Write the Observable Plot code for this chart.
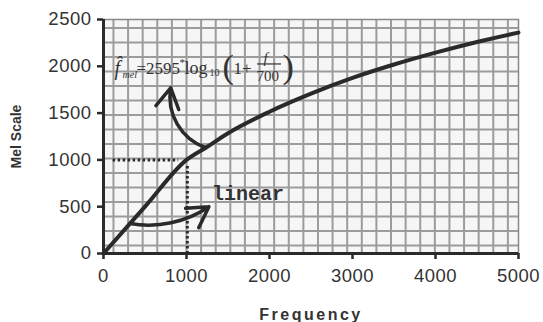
<!DOCTYPE html>
<html>
<head>
<meta charset="utf-8">
<script src="https://cdn.jsdelivr.net/npm/d3@7"></script>
<script src="https://cdn.jsdelivr.net/npm/@observablehq/plot@0.6"></script>
<style>
  html, body { margin: 0; padding: 0; background: #fff; }
  #chart svg { display: block; }
  #chart g[aria-label="x-axis label"] text { font-weight: bold; font-size: 16px; letter-spacing: 2.5px; fill: #333; }
  #chart g[aria-label="y-axis label"] text { font-weight: bold; font-size: 14px; fill: #333; }
  #chart g[aria-label="x-axis tick label"] text,
  #chart g[aria-label="y-axis tick label"] text { font-size: 18.5px; fill: #333; letter-spacing: 0.5px; }
</style>
</head>
<body>
<div id="chart"></div>
<script>
// Curve data: linear to 1000 Hz, logarithmic above
const freq = [0, 500, 1000, 1250, 1500, 2000, 2500, 3000, 3500, 4000, 4500, 5000];
const mel  = [0, 500, 1000, 1140, 1285, 1515, 1708, 1876, 2019, 2146, 2260, 2360];

// Tick values
const xTicks = [0, 1000, 2000, 3000, 4000, 5000];
const yTicks = [0, 500, 1000, 1500, 2000, 2500];

// Dotted reference lines (1000 Hz -> 1000 mel)
const refX1 = [110, 1010];
const refX2 = [900, 1010];
const refY1 = [1000, 0];
const refY2 = [1000, 940];

// Curved annotation arrows
const arrX1 = [1230, 320];
const arrY1 = [1130, 320];
const arrX2 = [810, 1270];
const arrY2 = [1770, 500];
const arrBend = [40, -22];

// "linear" label
const linearLabel = ["linear"];
const linearX = [1740];
const linearY = [640];

// Formula pieces, anchored at (0, 2000) with pixel offsets
const formulaText  = ["f\u0302", "mel", "=2595", "*", "log", "10", "(", "1+", "f", "700", ")"];
const formulaDx    = [11, 19, 33, 76, 81, 106, 119, 130, 160, 153, 179];
const formulaDy    = [2, 8, 2, -4, 2, 6, 1, 2, -8, 10, 1];
const formulaSize  = [20, 10, 17, 11, 18, 10, 34, 17, 15, 15, 34];
const formulaStyle = ["italic", "italic", "normal", "normal", "normal", "normal", "normal", "normal", "italic", "normal", "normal"];
const fracX1 = [1855], fracX2 = [2145], fracY = [2025];

const curve = freq.map((f, i) => ({f, m: mel[i]}));
const refs = refX1.map((_, i) => ({x1: refX1[i], x2: refX2[i], y1: refY1[i], y2: refY2[i]}));
const arrows = arrX1.map((_, i) => ({x1: arrX1[i], y1: arrY1[i], x2: arrX2[i], y2: arrY2[i], bend: arrBend[i]}));
const formula = formulaText.map((t, i) => ({t, x: 0, y: 2000, dx: formulaDx[i], dy: formulaDy[i], size: formulaSize[i], style: formulaStyle[i]}));

const gridXs = d3.range(120, 5000, 176);
const gridYs = d3.range(85, 2500, 155);

const ink = "#2a2a2a";

const formulaMarks = formula.map(d => Plot.text([d], {
  x: "x", y: "y", text: "t", dx: d.dx, dy: d.dy, textAnchor: "start",
  fontSize: d.size, fontStyle: d.style, fontFamily: "Liberation Serif, Times New Roman, serif",
  fill: "#333"
}));

const chart = Plot.plot({
  width: 543,
  height: 322,
  marginLeft: 103,
  marginRight: 25,
  marginTop: 19,
  marginBottom: 69,
  style: {fontFamily: "Liberation Sans, Arial, sans-serif", background: "#fff", color: "#333"},
  x: {domain: [0, 5000]},
  y: {domain: [0, 2500]},
  marks: [
    Plot.frame({fill: "#f6f6f6"}),
    Plot.ruleX(gridXs, {stroke: "#9c9c9c", strokeWidth: 2}),
    Plot.ruleY(gridYs, {stroke: "#9c9c9c", strokeWidth: 2}),
    Plot.frame({stroke: "#888", strokeWidth: 1.5}),
    Plot.link(refs, {x1: "x1", x2: "x2", y1: "y1", y2: "y2", stroke: ink, strokeWidth: 3, strokeDasharray: "2.5,2.5"}),
    Plot.line(curve, {x: "f", y: "m", stroke: ink, strokeWidth: 4, curve: "monotone-x"}),
    ...arrows.map(a => Plot.arrow([a], {x1: "x1", y1: "y1", x2: "x2", y2: "y2", bend: a.bend, stroke: ink, strokeWidth: 3.5, headLength: 10})),
    Plot.text(linearLabel, {x: linearX, y: linearY, text: d => d, fontFamily: "Liberation Mono, Courier New, monospace", fontSize: 20, fontWeight: "bold", fill: "#333"}),
    ...formulaMarks,
    Plot.ruleY([0], {x1: fracX1[0], x2: fracX2[0], y: fracY[0], stroke: "#333", strokeWidth: 1.2}),
    Plot.ruleX([0], {stroke: ink, strokeWidth: 3}),
    Plot.ruleY([0], {stroke: ink, strokeWidth: 3}),
    Plot.axisX({ticks: xTicks, tickSize: 6, tickPadding: 9, tickFormat: d => String(d), stroke: ink, strokeWidth: 2.5,
      label: "Frequency", labelAnchor: "center", labelOffset: 66, labelArrow: "none"}),
    Plot.axisY({ticks: yTicks, tickSize: 6, tickPadding: 6, tickFormat: d => String(d), stroke: ink, strokeWidth: 2.5,
      label: "Mel Scale", labelAnchor: "center", labelOffset: 92, labelArrow: "none"})
  ]
});
document.getElementById("chart").appendChild(chart);
</script>
</body>
</html>
